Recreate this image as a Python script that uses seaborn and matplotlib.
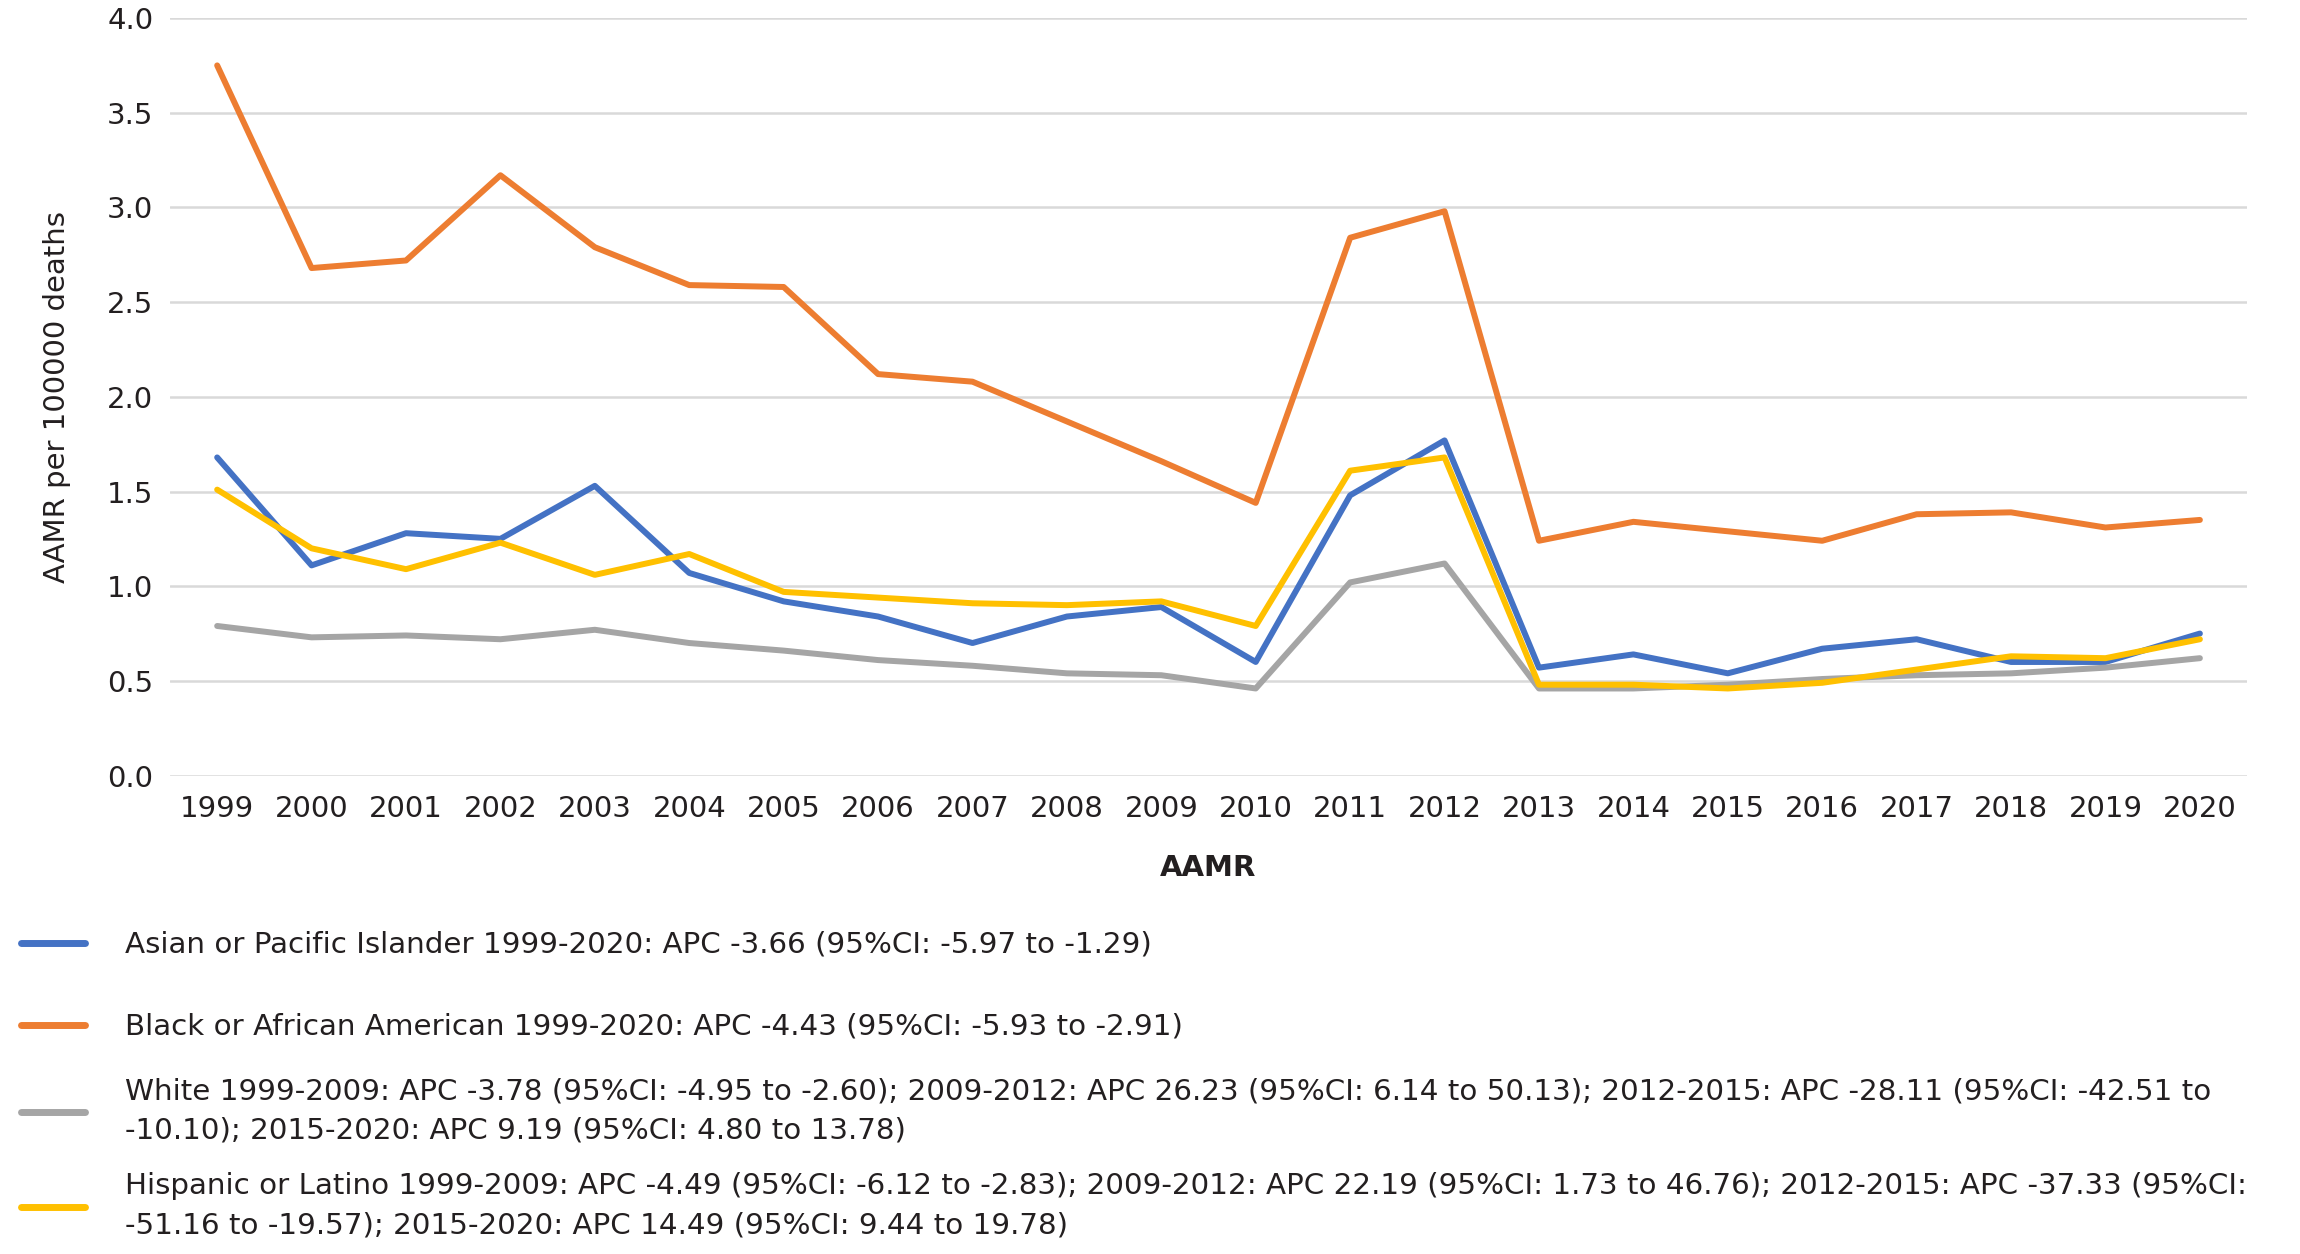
import numpy as np
import pandas as pd
import seaborn as sns
from matplotlib import pyplot as plt

years = list(range(1999, 2021))

asian = [1.68, 1.11, 1.28, 1.25, 1.53, 1.07, 0.92, 0.84, 0.70, 0.84, 0.89, 0.60,
         1.48, 1.77, 0.57, 0.64, 0.54, 0.67, 0.72, 0.60, 0.60, 0.75]
black = [3.75, 2.68, 2.72, 3.17, 2.79, 2.59, 2.58, 2.12, 2.08, 1.87, 1.66, 1.44,
         2.84, 2.98, 1.24, 1.34, 1.29, 1.24, 1.38, 1.39, 1.31, 1.35]
white = [0.79, 0.73, 0.74, 0.72, 0.77, 0.70, 0.66, 0.61, 0.58, 0.54, 0.53, 0.46,
         1.02, 1.12, 0.46, 0.46, 0.48, 0.51, 0.53, 0.54, 0.57, 0.62]
hispanic = [1.51, 1.20, 1.09, 1.23, 1.06, 1.17, 0.97, 0.94, 0.91, 0.90, 0.92, 0.79,
            1.61, 1.68, 0.48, 0.48, 0.46, 0.49, 0.56, 0.63, 0.62, 0.72]

labels = [
    "Asian or Pacific Islander 1999-2020: APC -3.66 (95%CI: -5.97 to -1.29)",
    "Black or African American 1999-2020: APC -4.43 (95%CI: -5.93 to -2.91)",
    "White 1999-2009: APC -3.78 (95%CI: -4.95 to -2.60); 2009-2012: APC 26.23 (95%CI: 6.14 to 50.13); "
    "2012-2015: APC -28.11 (95%CI: -42.51 to\n-10.10); 2015-2020: APC 9.19 (95%CI: 4.80 to 13.78)",
    "Hispanic or Latino 1999-2009: APC -4.49 (95%CI: -6.12 to -2.83); 2009-2012: APC 22.19 (95%CI: 1.73 to 46.76); "
    "2012-2015: APC -37.33 (95%CI:\n-51.16 to -19.57); 2015-2020: APC 14.49 (95%CI: 9.44 to 19.78)",
]
colors = ["#4472C4", "#ED7D31", "#A5A5A5", "#FFC000"]
series = [asian, black, white, hispanic]
# vertical centre of each legend entry (fraction of figure height)
legend_y = [1 - 945 / 1254, 1 - 1027 / 1254, 1 - 1111 / 1254, 1 - 1206 / 1254]

sns.set_style('white')
plt.rcParams['font.family'] = ['DejaVu Sans']
txt = '#231F20'

fig = plt.figure(figsize=(23, 12.54), dpi=100)
ax = fig.add_axes([0.0739, 0.3815, 0.9031, 0.6041])

for vals, lab, col in zip(series, labels, colors):
    sns.lineplot(x=years, y=vals, color=col, linewidth=4.3, label=lab, ax=ax,
                 solid_capstyle='round', solid_joinstyle='round')
ax.get_legend().remove()

ax.set_ylim(0, 4.0)
ax.set_yticks(np.arange(0, 4.01, 0.5))
ax.set_yticklabels([f"{v:.1f}" for v in np.arange(0, 4.01, 0.5)])
ax.set_xlim(1998.5, 2020.5)
ax.set_xticks(years)
ax.set_xticklabels([str(y) for y in years])
ax.grid(axis='y', color='#D9D9D9', linewidth=1.8)
ax.set_axisbelow(True)
sns.despine(ax=ax, left=True, bottom=True)
ax.tick_params(axis='x', length=0, labelsize=21, colors=txt, pad=14)
ax.tick_params(axis='y', length=0, labelsize=21, colors=txt, pad=12)
ax.set_ylabel('AAMR per 100000 deaths', fontsize=21, color=txt, labelpad=26)
ax.set_xlabel('AAMR', fontsize=21, fontweight='bold', color=txt, labelpad=22)

handles, labs = ax.get_legend_handles_labels()
for h, lab, yc in zip(handles, labs, legend_y):
    leg = fig.legend([h], [lab], loc='center left', bbox_to_anchor=(0.009, yc),
                     frameon=False, fontsize=21.2, handlelength=2.2, handletextpad=1.35,
                     borderpad=0, borderaxespad=0, labelcolor=txt)
    for t in leg.get_texts():
        t.set_linespacing(1.5)
    for l in leg.get_lines():
        l.set_linewidth(5)

plt.savefig('out.png', dpi=100)
plt.close()
